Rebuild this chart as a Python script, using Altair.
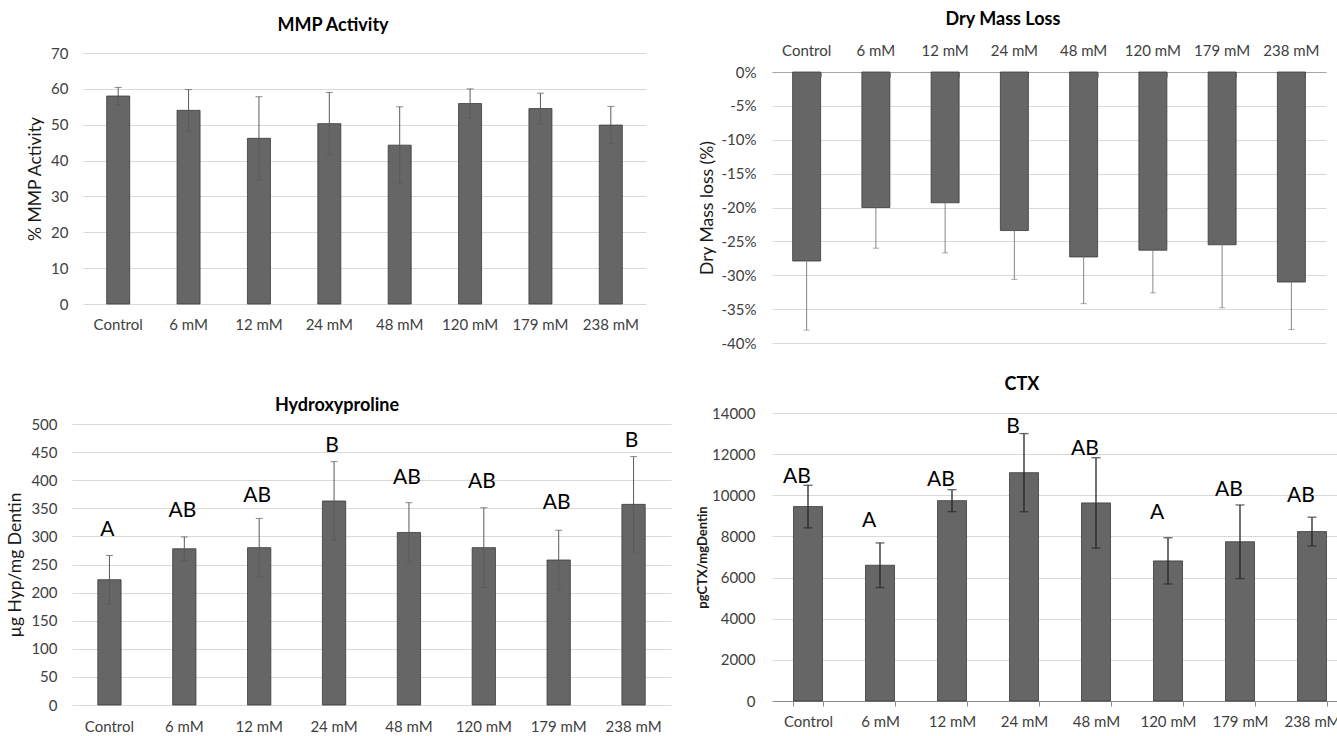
import altair as alt
import pandas as pd

# ---- data -------------------------------------------------------------
categories = ["Control", "6 mM", "12 mM", "24 mM", "48 mM", "120 mM", "179 mM", "238 mM"]

mmp_mean = [58.0, 54.0, 46.2, 50.3, 44.3, 55.9, 54.5, 49.9]
mmp_sd = [2.4, 5.8, 11.6, 8.7, 10.7, 4.1, 4.3, 5.2]

dry_mean = [-27.9, -20.0, -19.3, -23.4, -27.3, -26.3, -25.5, -31.0]
dry_sd = [10.2, 6.0, 7.4, 7.2, 6.9, 6.3, 9.3, 7.0]

hyp_mean = [223, 278, 280, 363, 307, 280, 258, 357]
hyp_sd = [43, 21, 52, 70, 53, 71, 53, 85]
hyp_letters = ["A", "AB", "AB", "B", "AB", "AB", "AB", "B"]
hyp_letter_at = [311, 345, 371, 461, 404, 397, 360, 469]

ctx_mean = [9450, 6600, 9740, 11100, 9630, 6810, 7740, 8235]
ctx_sd = [1035, 1085, 535, 1900, 2200, 1125, 1790, 700]
ctx_letters = ["AB", "A", "AB", "B", "AB", "A", "AB", "AB"]
ctx_letter_at = [10910, 8740, 10730, 13320, 12250, 9150, 10265, 9950]

# ---- style ------------------------------------------------------------
FONT = "Lato"
BAR = "#666666"
BAR_EDGE = "#3a3a3a"
GRID = "#d9d9d9"
LABEL = "#404040"
TEXT = "#1a1a1a"


def table(mean, sd, letters=None, letter_at=None):
    df = pd.DataFrame({"cat": categories, "mean": mean, "sd": sd})
    df["lo"] = df["mean"] - df["sd"]
    df["hi"] = df["mean"] + df["sd"]
    if letters is not None:
        df["letter"] = letters
        df["at"] = letter_at
    return df


def y_axis(values, title_x, title_y, label_expr=None, fmt=None, offset=0,
           label_padding=15, title_size=17.5, title_weight="normal"):
    kw = dict(
        values=values, tickCount=len(values) + 5, labelOverlap=False,
        grid=True, gridColor=GRID, gridWidth=1, domain=False,
        ticks=False, labelPadding=label_padding, labelFont=FONT, labelFontSize=15,
        labelColor=LABEL, titleFont=FONT, titleFontSize=title_size,
        titleFontWeight=title_weight, titleColor=TEXT, titleX=title_x,
        titleY=title_y, titleAlign="center", titleBaseline="middle",
        offset=offset,
    )
    if label_expr:
        kw["labelExpr"] = label_expr
    if fmt:
        kw["format"] = fmt
    return alt.Axis(**kw)


def panel(df, *, width, height, x_range, pad, x_axis, y_scale, y_axis_,
          y_title, title, err_color, err_width, cap, letter_dx=0,
          inner_ticks=None):
    if inner_ticks is not None:
        xs = alt.X("cat:N", sort=categories, title=None, axis=None)
    else:
        xs = alt.X("cat:N", sort=categories, title=None)
    x_main = alt.X(
        "cat:N", sort=categories, title=None, axis=x_axis,
        scale=alt.Scale(range=x_range, paddingInner=pad, paddingOuter=pad / 2),
    )
    base = alt.Chart(df)
    bars = base.mark_bar(color=BAR, stroke=BAR_EDGE, strokeWidth=0.8).encode(
        x=x_main,
        y=alt.Y("mean:Q", title=y_title, scale=y_scale, axis=y_axis_),
    )
    err = base.mark_rule(color=err_color, strokeWidth=err_width).encode(
        x=xs, y=alt.Y("lo:Q", title=y_title), y2="hi:Q"
    )
    cap_lo = base.mark_tick(color=err_color, thickness=err_width, size=cap).encode(
        x=xs, y=alt.Y("lo:Q", title=y_title)
    )
    cap_hi = base.mark_tick(color=err_color, thickness=err_width, size=cap).encode(
        x=xs, y=alt.Y("hi:Q", title=y_title)
    )
    layers = [bars, err, cap_lo, cap_hi]
    if "letter" in df.columns:
        letters = base.mark_text(
            font=FONT, fontSize=21, color="#000000", baseline="middle", dx=letter_dx
        ).encode(x=xs, y=alt.Y("at:Q", title=y_title), text="letter:N")
        layers.append(letters)
    if inner_ticks is not None:
        # category tick marks pointing into the plot from the 0% line
        ghost = base.mark_bar(opacity=0).encode(
            x=alt.X("cat:N", sort=categories, title=None, axis=inner_ticks),
            y=alt.Y("mean:Q", title=y_title),
        )
        layers.append(ghost)
    out = alt.layer(*layers).properties(width=width, height=height, title=title)
    if inner_ticks is not None:
        out = out.resolve_axis(x="independent")
    return out


def chart_title(text, dx, offset, dy=0):
    return alt.TitleParams(
        text=text, font=FONT, fontSize=18, fontWeight="bold", color="#000000",
        anchor="middle", frame="group", dx=dx, dy=dy, offset=offset,
    )


def x_axis_plain(orient, label_padding):
    return alt.Axis(
        orient=orient, domain=False, ticks=False, labelAngle=0, grid=False,
        labelPadding=label_padding, labelFont=FONT, labelFontSize=15,
        labelColor=LABEL,
    )


# MMP activity
mmp = panel(
    table(mmp_mean, mmp_sd),
    width=563, height=232, x_range=[0, 563], pad=0.673,
    x_axis=x_axis_plain("bottom", 13),
    y_scale=alt.Scale(domain=[0, 70], range=[232, -19], nice=False),
    y_axis_=y_axis(list(range(0, 71, 10)), -48, 106.5),
    y_title="% MMP Activity",
    title=chart_title("MMP Activity", -31.5, 11),
    err_color="#5a5a5a", err_width=1, cap=7,
)

# Dry mass loss (categories on top, bars hang down from 0%)
dry = panel(
    table(dry_mean, dry_sd),
    width=554, height=271, x_range=[0, 554], pad=0.596,
    x_axis=alt.Axis(
        orient="top", domain=True, domainColor="#a6a6a6", domainWidth=1,
        ticks=False, labelAngle=0, grid=False, labelPadding=14,
        labelFont=FONT, labelFontSize=15, labelColor=LABEL,
    ),
    y_scale=alt.Scale(domain=[-40, 0], nice=False),
    y_axis_=y_axis(list(range(-40, 1, 5)), -65, 135.5,
                   label_expr="datum.value + '%'", label_padding=16),
    y_title="Dry Mass loss (%)",
    title=chart_title("Dry Mass Loss", -46, 14),
    err_color="#6a6a6a", err_width=0.8, cap=6,
    inner_ticks=alt.Axis(
        orient="bottom", offset=-271, labels=False, domain=False, grid=False,
        ticks=True, tickBand="extent", tickSize=5, tickColor="#a6a6a6",
        title=None,
    ),
)

# Hydroxyproline
hyp = panel(
    table(hyp_mean, hyp_sd, hyp_letters, hyp_letter_at),
    width=588, height=292, x_range=[-11, 588], pad=0.689,
    x_axis=x_axis_plain("bottom", 14),
    y_scale=alt.Scale(domain=[0, 500], range=[292, 11], nice=False),
    y_axis_=y_axis(list(range(0, 501, 50)), -57, 151.5, offset=11),
    y_title="µg Hyp/mg Dentin",
    title=chart_title("Hydroxyproline", -40, 2, dy=4),
    err_color="#5a5a5a", err_width=1, cap=7, letter_dx=-2,
)

# CTX
ctx = panel(
    table(ctx_mean, ctx_sd, ctx_letters, ctx_letter_at),
    width=576, height=288, x_range=[0, 576], pad=0.597,
    x_axis=alt.Axis(
        orient="bottom", domain=True, domainColor="#8c8c8c", domainWidth=1,
        ticks=True, tickBand="extent", tickSize=5, tickColor="#8c8c8c",
        labelAngle=0, grid=False, labelPadding=8,
        labelFont=FONT, labelFontSize=15, labelColor=LABEL,
    ),
    y_scale=alt.Scale(domain=[0, 14000], nice=False),
    y_axis_=y_axis(list(range(0, 14001, 2000)), -70, 144, fmt="d",
                   label_padding=17, title_size=13, title_weight="bold"),
    y_title="pgCTX/mgDentin",
    title=chart_title("CTX", -38, 12),
    err_color="#262626", err_width=1.3, cap=9, letter_dx=-11,
)

chart = alt.concat(
    mmp, dry, hyp, ctx,
    columns=2,
    spacing=alt.RowColnumber(row=70, column=101),
    bounds="flush",
    align="each",
).properties(
    autosize=alt.AutoSizeParams(type="none"),
    padding={"left": 83, "top": 72, "right": 1254, "bottom": 664},
    background="white",
).configure_view(stroke=None)

chart.save("out.html", embed_options={"renderer": "svg", "actions": False})
